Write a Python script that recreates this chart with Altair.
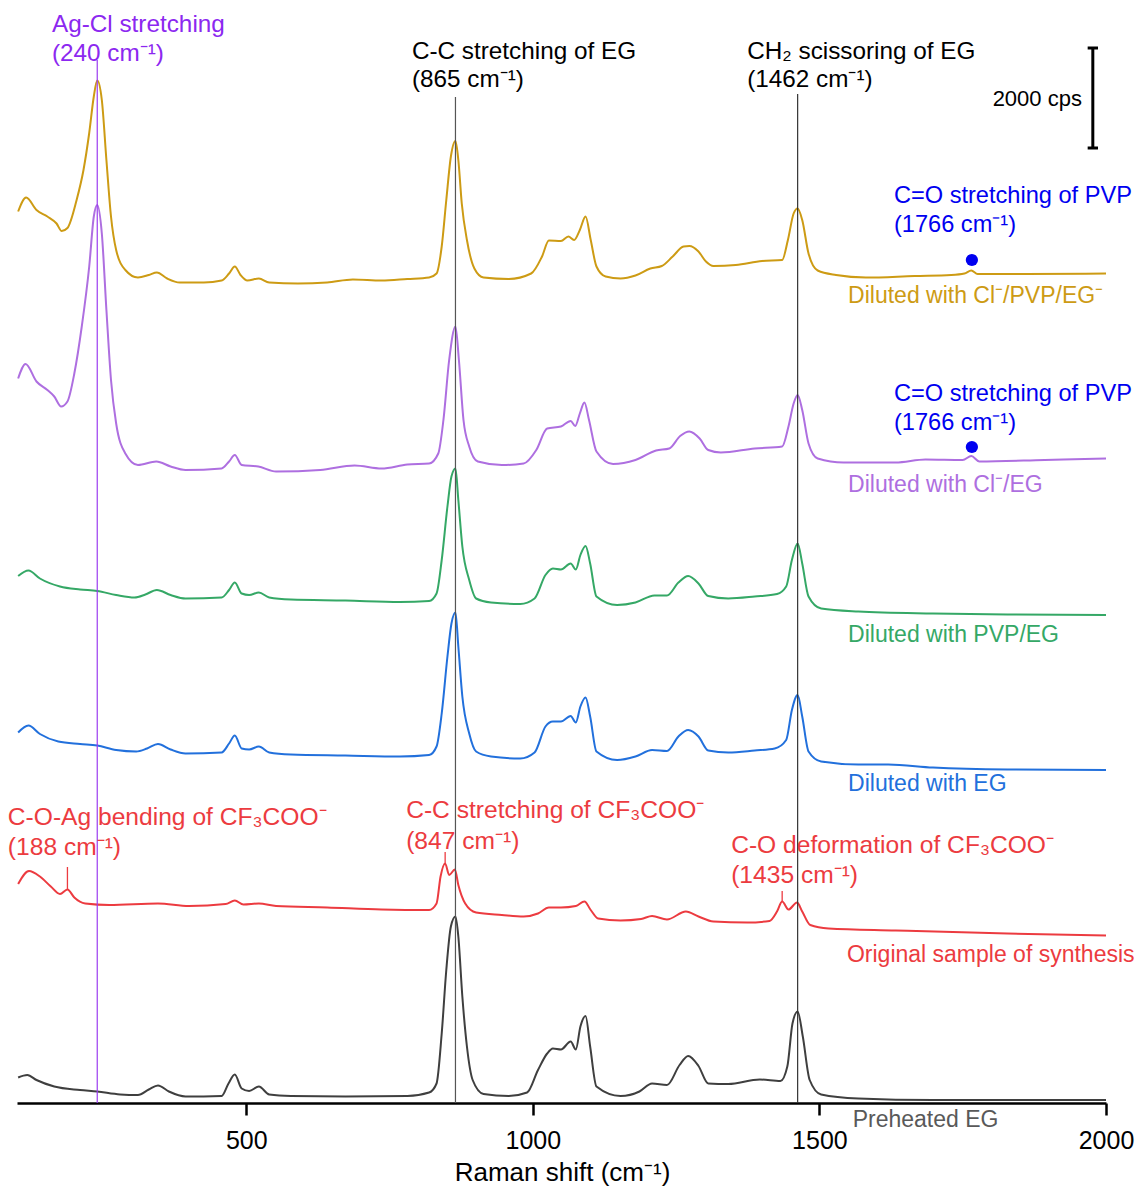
import altair as alt
import pandas as pd

# ---------------- spectra (Raman shift in cm-1, stacked intensity in cps) ----------------
gold_x = [102,116,134,153,169,178,188,204,216,226,234,240,248,256,264,273,289,311,330,344,362,384,426,457,470,480,490,502,522,540,590,641,686,736,781,819,832,841,849,857,865,870,876,885,898,914,958,997,1016,1028,
          1049,1062,1072,1082,1092,1101,1111,1127,1153,1179,1205,1225,1244,1263,1273,1289,1302,1315,1354,1400,1435,1445,1455,1462,1470,1481,1497,1529,1581,1666,1730,1753,1765,1776,1860,2000]
gold_y = [17830,18110,17860,17730,17590,17440,17500,18060,18660,19400,20130,20450,20060,18860,17730,17060,16660,16510,16560,16610,16490,16410,16410,16450,16590,16730,16560,16450,16490,16410,16390,16410,16470,16450,16480,16510,16590,17130,18060,18930,19240,18860,17990,17260,16690,16510,16480,16590,16930,17250,
          17240,17330,17260,17460,17730,17260,16730,16530,16490,16550,16690,16740,16930,17130,17140,17030,16830,16740,16760,16840,16860,17260,17790,17890,17660,16990,16650,16560,16510,16540,16560,16590,16650,16580,16580,16590]

purple_x = [102,115,134,153,165,177,188,200,213,226,234,240,248,256,264,273,289,311,343,368,394,457,470,480,492,521,552,629,689,736,781,819,835,844,854,865,871,879,889,904,946,984,1006,1025,
            1049,1066,1074,1082,1090,1098,1111,1140,1179,1215,1238,1257,1273,1291,1306,1328,1387,1435,1446,1455,1462,1470,1481,1497,1542,1633,1685,1750,1765,1779,1893,2000]
purple_y = [14490,14780,14430,14260,14130,13930,14030,14590,15530,16730,17730,17960,17390,15860,14460,13590,12990,12760,12830,12730,12660,12690,12830,12960,12760,12730,12630,12660,12750,12690,12770,12790,12990,13660,14860,15530,14860,13660,13130,12830,12760,12790,13060,13490,
            13530,13640,13540,13790,14010,13660,13030,12780,12860,13050,13090,13340,13430,13290,13060,13010,13090,13130,13530,13990,14160,13860,13190,12890,12810,12810,12870,12860,12940,12830,12860,12890]

green_x = [102,120,140,175,210,240,273,305,324,344,368,394,457,470,480,492,505,522,540,578,673,768,819,832,841,851,858,865,870,877,889,901,927,978,1003,1022,1035,
           1049,1066,1075,1083,1092,1100,1111,1147,1179,1212,1234,1254,1271,1289,1306,1341,1387,1426,1442,1452,1462,1470,1481,1503,1568,1698,1828,2000]
green_y = [10540,10650,10490,10330,10270,10240,10160,10110,10170,10260,10160,10090,10110,10260,10410,10190,10160,10210,10110,10070,10050,10020,10040,10190,10860,11930,12530,12690,12060,11130,10460,10090,10010,9980,10090,10560,10690,
           10670,10790,10670,10960,11140,10790,10130,9960,10010,10150,10150,10410,10540,10390,10140,10090,10130,10180,10330,10860,11190,10790,10130,9890,9830,9790,9770,9760]

blue_x = [102,120,140,172,210,240,273,308,327,346,368,394,457,470,480,492,505,522,540,578,673,768,819,832,841,851,858,865,870,877,889,901,927,978,1003,1022,1035,
          1049,1066,1075,1083,1092,1100,1111,1147,1179,1208,1234,1254,1271,1289,1306,1341,1387,1422,1442,1452,1462,1470,1481,1503,1568,1620,1698,1828,2000]
blue_y = [7410,7550,7380,7230,7180,7150,7060,7030,7090,7180,7070,6990,7010,7190,7350,7090,7070,7130,7010,6970,6950,6930,6960,7130,7790,8930,9590,9810,9130,8130,7390,7030,6930,6890,7010,7530,7630,
          7630,7740,7610,7930,8110,7730,7030,6860,6930,7060,7040,7330,7460,7330,7050,7010,7050,7090,7260,7860,8160,7730,7030,6830,6770,6770,6710,6670,6660]

red_x = [102,121,140,159,175,188,200,219,261,346,400,464,480,495,522,552,641,736,819,832,839,847,854,864,870,882,901,946,984,1009,1028,
         1049,1075,1090,1101,1114,1153,1189,1208,1234,1267,1289,1315,1374,1413,1426,1435,1446,1461,1470,1484,1516,1633,1828,2000]
red_y = [4380,4640,4530,4330,4180,4270,4110,3990,3960,3990,3940,3980,4050,3970,3990,3940,3910,3870,3860,3990,4530,4790,4560,4670,4360,3990,3810,3760,3730,3790,3910,
         3910,3940,4030,3860,3690,3650,3680,3740,3670,3830,3730,3630,3610,3640,3830,4030,3870,4010,3830,3560,3490,3450,3390,3350]

black_x = [102,118,134,165,210,240,280,311,330,346,365,394,457,469,480,492,505,522,540,578,673,781,819,832,841,849,857,865,870,877,885,895,914,958,990,1009,1025,1035,
           1049,1066,1075,1083,1092,1100,1111,1153,1186,1208,1234,1256,1271,1289,1306,1341,1396,1432,1444,1453,1462,1471,1483,1503,1568,1698,2000]
black_y = [510,560,460,330,260,230,170,160,270,350,230,130,140,390,570,290,240,330,170,140,130,140,210,390,1390,2660,3530,3730,3330,2130,1130,460,180,140,210,660,990,1090,
           1070,1230,1070,1530,1740,1130,330,140,230,390,360,760,940,740,390,380,470,440,730,1590,1830,1330,460,170,90,60,60]

series_names = ["Diluted with Cl⁻/PVP/EG⁻", "Diluted with Cl⁻/EG", "Diluted with PVP/EG",
                "Diluted with EG", "Original sample of synthesis", "Preheated EG"]
series_colors = ["#CD9B14", "#AE6FE0", "#35A866", "#2270DC", "#EC3B40", "#3F3F3F"]
series_xs = [gold_x, purple_x, green_x, blue_x, red_x, black_x]
series_ys = [gold_y, purple_y, green_y, blue_y, red_y, black_y]

rows = []
for name, col, xs, ys in zip(series_names, series_colors, series_xs, series_ys):
    for i, (xv, yv) in enumerate(zip(xs, ys)):
        rows.append({"series": name, "color": col, "x": xv, "y": yv, "order": i})
spec_df = pd.DataFrame(rows)

# ---------------- reference lines ----------------
vline_x = [240, 865, 1462]
vline_top = [20860, 20120, 20180]
vline_color = ["#9B3CF0", "#555555", "#333333"]
vline_df = pd.DataFrame({"x": vline_x, "y": [0, 0, 0], "y2": vline_top, "color": vline_color})

# short red marker ticks
mark_x = [188, 847, 1435]
mark_top = [4720, 5020, 4240]
mark_bot = [4270, 4790, 4030]
mark_df = pd.DataFrame({"x": mark_x, "y": mark_bot, "y2": mark_top})

# PVP dots
dot_x = [1766, 1766]
dot_y = [16860, 13120]
dot_df = pd.DataFrame({"x": dot_x, "y": dot_y})

# scale bar (2000 cps)
bar_x = 1977
bar_low, bar_high = 19100, 21100
cap_x1, cap_x2 = 1968, 1986
bar_df = pd.DataFrame({"x": [bar_x], "y": [bar_low], "y2": [bar_high]})
cap_df = pd.DataFrame({"x": [cap_x1, cap_x1], "x2": [cap_x2, cap_x2], "y": [bar_low, bar_high]})

# ---------------- annotation texts ----------------
VIOLET = "#8C28F0"
BLUE = "#0000F0"
RED = "#EC3B40"
ann_text = ["Ag-Cl stretching", "(240 cm⁻¹)",
            "C-C stretching of EG", "(865 cm⁻¹)",
            "CH₂ scissoring of EG", "(1462 cm⁻¹)",
            "C=O stretching of PVP", "(1766 cm⁻¹)",
            "C=O stretching of PVP", "(1766 cm⁻¹)",
            "C-O-Ag bending of CF₃COO⁻", "(188 cm⁻¹)",
            "C-C stretching of CF₃COO⁻", "(847 cm⁻¹)",
            "C-O deformation of CF₃COO⁻", "(1435 cm⁻¹)"]
ann_x = [161, 161, 789, 789, 1374, 1374, 1630, 1630, 1630, 1630, 84, 84, 779, 779, 1346, 1346]
ann_y = [21420, 20840, 20880, 20320, 20880, 20320, 18000, 17420, 14040, 13460,
         5560, 4960, 5700, 5080, 5000, 4400]
ann_color = [VIOLET, VIOLET, "black", "black", "black", "black", BLUE, BLUE, BLUE, BLUE,
             RED, RED, RED, RED, RED, RED]
ann_size = [24.3] * 6 + [23.6] * 4 + [24.6] * 6
ann_df = pd.DataFrame({"x": ann_x, "y": ann_y, "text": ann_text, "color": ann_color, "size": ann_size})

# series labels
lab_x = [1550, 1550, 1550, 1550, 1548, 1558]
lab_y = [16000, 12220, 9220, 6240, 2820, -480]
lab_color = ["#CD9B14", "#AE6FE0", "#35A866", "#2270DC", "#EC3B40", "#595959"]
lab_df = pd.DataFrame({"x": lab_x, "y": lab_y, "text": series_names, "color": lab_color})

cps_df = pd.DataFrame({"x": [1958], "y": [19940], "text": ["2000 cps"]})

# ---------------- chart ----------------
FONT = "Liberation Sans, Arial, sans-serif"
xscale = alt.Scale(domain=[100, 2000], nice=False, zero=False)
yscale = alt.Scale(domain=[0, 21900], nice=False, zero=False)
xaxis = alt.Axis(values=[500, 1000, 1500, 2000], format="d", title="Raman shift (cm⁻¹)", grid=False,
                 domainColor="black", domainWidth=2.5, tickColor="black", tickWidth=2.5,
                 tickSize=12, labelFont=FONT, labelFontSize=25, labelColor="black",
                 labelPadding=13, labelFlush=False, titleFont=FONT, titleFontSize=26,
                 titleFontWeight="normal", titleColor="black", titleY=77, titleX=545,
                 titleBaseline="alphabetic", titleAlign="center")

X = alt.X("x:Q", scale=xscale, axis=xaxis)
Y = alt.Y("y:Q", scale=yscale, axis=None)

spectra = alt.Chart(spec_df).mark_line(strokeWidth=2, interpolate="monotone").encode(
    x=X, y=Y, detail="series:N", order="order:Q",
    color=alt.Color("color:N", scale=None))

vlines = alt.Chart(vline_df).mark_rule(strokeWidth=1.2).encode(
    x=X, y=Y, y2="y2:Q", color=alt.Color("color:N", scale=None))

marks = alt.Chart(mark_df).mark_rule(strokeWidth=1.3, color=RED).encode(x=X, y=Y, y2="y2:Q")

dots = alt.Chart(dot_df).mark_circle(size=150, color=BLUE, opacity=1).encode(x=X, y=Y)

bar = alt.Chart(bar_df).mark_rule(strokeWidth=3, color="black").encode(x=X, y=Y, y2="y2:Q")
caps = alt.Chart(cap_df).mark_rule(strokeWidth=3, color="black").encode(x=X, x2="x2:Q", y=Y)

ann = alt.Chart(ann_df).mark_text(align="left", baseline="alphabetic", font=FONT).encode(
    x=X, y=Y, text="text:N", color=alt.Color("color:N", scale=None),
    size=alt.Size("size:Q", scale=None))

labels = alt.Chart(lab_df).mark_text(align="left", baseline="alphabetic", font=FONT, fontSize=23).encode(
    x=X, y=Y, text="text:N", color=alt.Color("color:N", scale=None))

cps_text = alt.Chart(cps_df).mark_text(align="right", baseline="alphabetic", font=FONT,
                                       fontSize=22, color="black").encode(x=X, y=Y, text="text:N")

chart = alt.layer(spectra, vlines, marks, dots, bar, caps, ann, labels, cps_text).properties(
    width=1089, height=1095,
    autosize=alt.AutoSizeParams(type="none"),
    padding={"left": 9, "top": 0, "right": 29, "bottom": 84},
).configure_view(stroke=None)

chart.save("out.html", embed_options={"renderer": "svg", "actions": False})
